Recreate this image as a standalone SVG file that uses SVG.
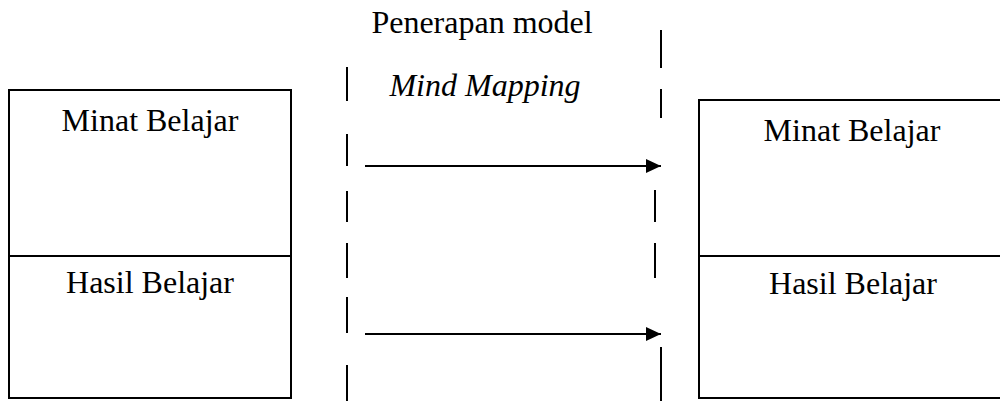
<svg xmlns="http://www.w3.org/2000/svg" width="1000" height="401" viewBox="0 0 1000 401">
<style>
.box{fill:#fff;stroke:#000;stroke-width:2}
.div{stroke:#000;stroke-width:2}
.t{font-family:"Liberation Serif","Times New Roman",serif;font-size:32px;fill:#000;text-anchor:middle}
.i{font-style:italic}
.dash{stroke:#000;stroke-width:2}
.arr{stroke:#000;stroke-width:2;fill:none}
</style>
<defs>
<marker id="ah" markerUnits="userSpaceOnUse" markerWidth="16" markerHeight="14" refX="15" refY="7" orient="auto">
<polygon points="0,0 15,7 0,14" fill="#000"/>
</marker>
</defs>
<g id="before">
<rect class="box" x="9" y="90" width="282" height="308"/>
<line class="div" x1="9" y1="256" x2="291" y2="256"/>
<text class="t" x="150" y="131">Minat Belajar</text>
<text class="t" x="150" y="293">Hasil Belajar</text>
</g>
<g id="after">
<rect class="box" x="699" y="100" width="320" height="298"/>
<line class="div" x1="699" y1="256" x2="1000" y2="256"/>
<text class="t" x="852" y="141">Minat Belajar</text>
<text class="t" x="853" y="294">Hasil Belajar</text>
</g>
<g id="treatment">
<text class="t" x="482" y="33">Penerapan model</text>
<text class="t i" x="485" y="96">Mind Mapping</text>
</g>
<g id="boundaries">
<line class="dash" x1="347" y1="67" x2="347" y2="101"/>
<line class="dash" x1="347" y1="134" x2="347" y2="166"/>
<line class="dash" x1="347" y1="191" x2="347" y2="222"/>
<line class="dash" x1="347" y1="243" x2="347" y2="278"/>
<line class="dash" x1="347" y1="297" x2="347" y2="333"/>
<line class="dash" x1="347" y1="365" x2="347" y2="401"/>
<line class="dash" x1="661" y1="30" x2="661" y2="68"/>
<line class="dash" x1="661" y1="89" x2="661" y2="118"/>
<line class="dash" x1="655" y1="190" x2="655" y2="222"/>
<line class="dash" x1="655" y1="243" x2="655" y2="278"/>
<line class="dash" x1="661" y1="347" x2="661" y2="401"/>
</g>
<g id="connectors">
<line class="arr" x1="365" y1="166" x2="661" y2="166" marker-end="url(#ah)"/>
<line class="arr" x1="365" y1="334" x2="661" y2="334" marker-end="url(#ah)"/>
</g>
</svg>
